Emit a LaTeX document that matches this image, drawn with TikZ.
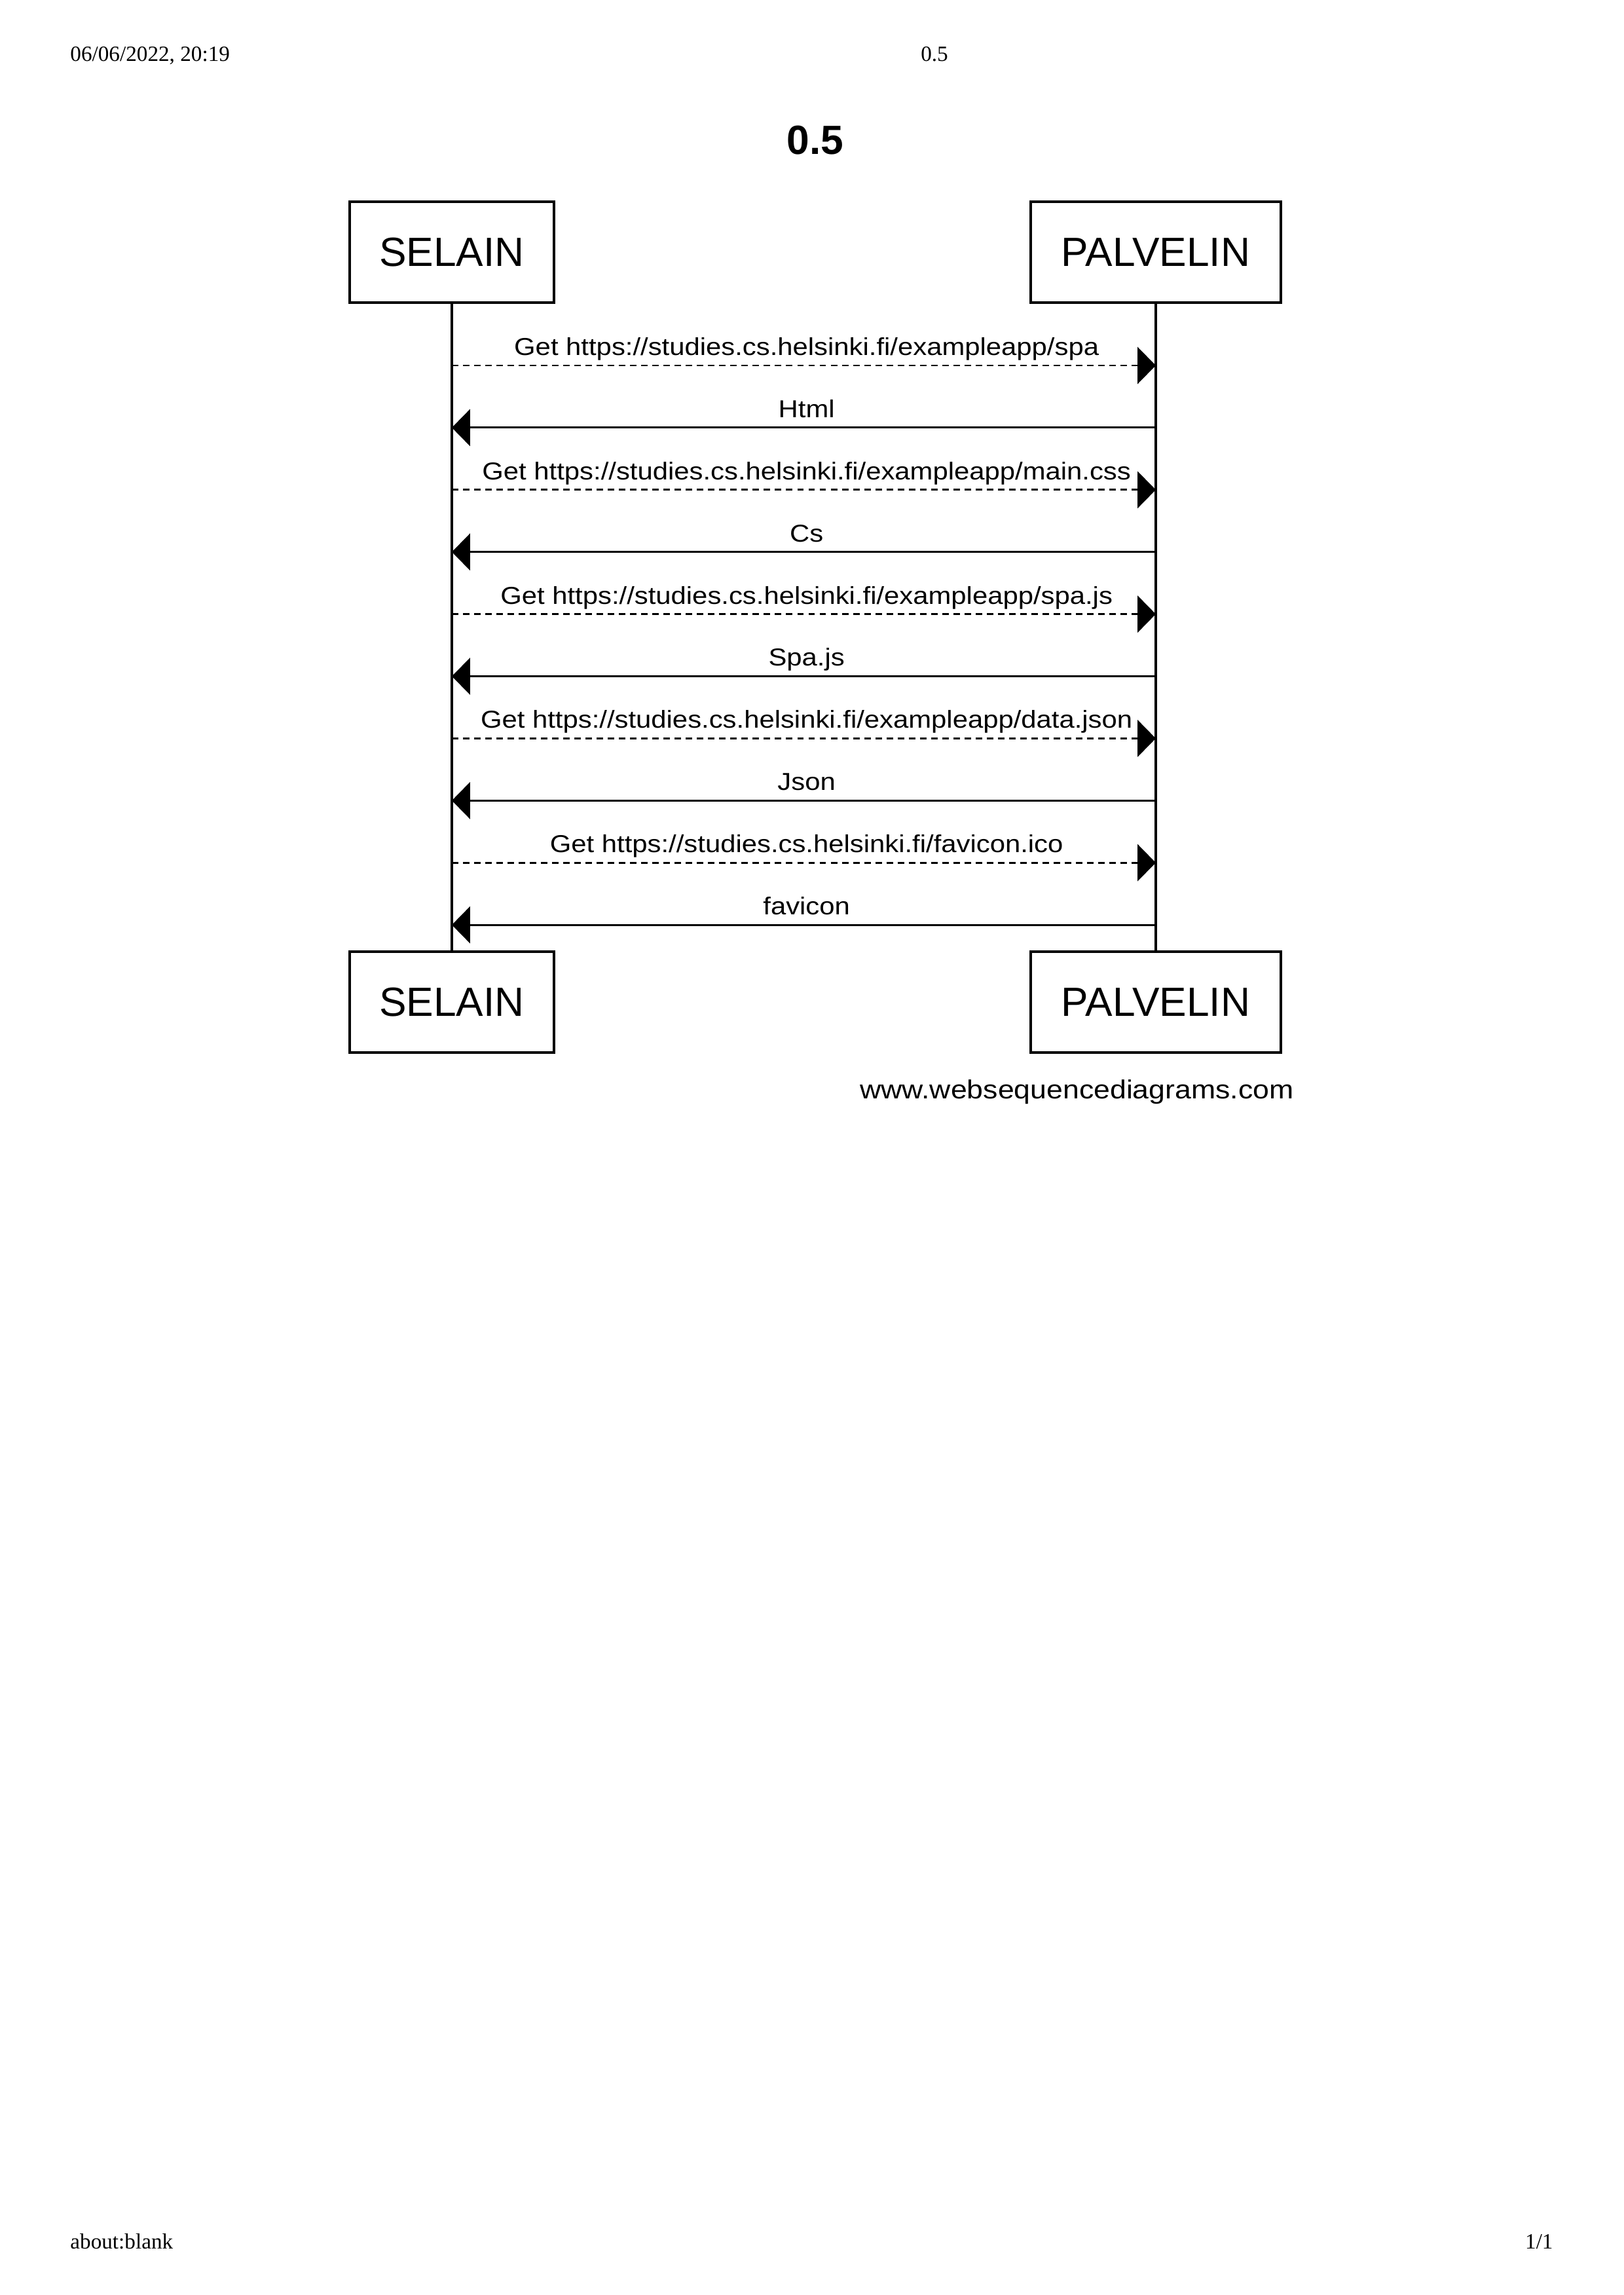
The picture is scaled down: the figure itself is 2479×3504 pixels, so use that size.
\documentclass[tikz,border=0pt]{standalone}
\usepackage{fontspec}
\setmainfont{Liberation Sans}
\newfontfamily\msgfont{Liberation Sans}[FakeStretch=1.12,Ligatures=NoCommon]
\newfontfamily\pagefont{Liberation Serif}
\usetikzlibrary{arrows.meta,positioning}

\begin{document}
\begin{tikzpicture}[x=0.008467cm,y=-0.008467cm,>={Triangle[length=6.7pt,width=13.5pt]},line width=0.7pt]
  \tikzstyle{actor}=[draw,line width=1pt,minimum height=37pt,font=\fontsize{15}{18}\selectfont]
  \tikzstyle{req}=[dash pattern=on 2.4pt off 1.7pt]
  \tikzstyle{msg}=[above=3.4pt,xshift=1pt,inner sep=0pt,text depth=0pt,font=\msgfont\fontsize{9}{11}\selectfont]
  \tikzstyle{page}=[inner sep=0pt,font=\pagefont\fontsize{8}{10}\selectfont]
  \useasboundingbox (0,0) rectangle (2479,3504);
  % print header and footer
  \node[page,anchor=base west] (date) at (106,93) {06/06/2022, 20:19};
  \node[page,anchor=base] (head) at (1427,93) {0.5};
  \node[page,anchor=base west] (blank) at (106,3433) {about:blank};
  \node[page,anchor=base east] (pages) at (2373,3433) {1/1};
  % diagram
  \node[anchor=base,inner sep=0pt,font=\fontsize{15}{18}\selectfont\bfseries] (title) at (1245,235) {0.5};
  \node[actor,minimum width=75pt] (s_top) at (690,385) {SELAIN};
  \node[actor,minimum width=92pt] (p_top) at (1765,385) {PALVELIN};
  \node[actor,minimum width=75pt] (s_bot) at (690,1530) {SELAIN};
  \node[actor,minimum width=92pt] (p_bot) at (1765,1530) {PALVELIN};
  \draw[line width=0.8pt] (s_top) -- (s_bot);
  \draw[line width=0.8pt] (p_top) -- (p_bot);
  \foreach \i in {0,...,9} {
    \coordinate (s_\i) at (690,{558+94.9*\i});
    \coordinate (p_\i) at (1765,{558+94.9*\i});
  }
  \path[->]
  (s_0) edge [req] node[msg] {Get https://studies.cs.helsinki.fi/exampleapp/spa} (p_0)
  (p_1) edge node[msg] {Html} (s_1)
  (s_2) edge [req] node[msg] {Get https://studies.cs.helsinki.fi/exampleapp/main.css} (p_2)
  (p_3) edge node[msg] {Cs} (s_3)
  (s_4) edge [req] node[msg] {Get https://studies.cs.helsinki.fi/exampleapp/spa.js} (p_4)
  (p_5) edge node[msg] {Spa.js} (s_5)
  (s_6) edge [req] node[msg] {Get https://studies.cs.helsinki.fi/exampleapp/data.json} (p_6)
  (p_7) edge node[msg] {Json} (s_7)
  (s_8) edge [req] node[msg] {Get https://studies.cs.helsinki.fi/favicon.ico} (p_8)
  (p_9) edge node[msg] {favicon} (s_9)
  ;
  \node[anchor=base east,inner sep=0pt,font=\msgfont\fontsize{9.6}{11}\selectfont] (credit) at (1977,1677) {www.websequencediagrams.com};
\end{tikzpicture}
\end{document}
